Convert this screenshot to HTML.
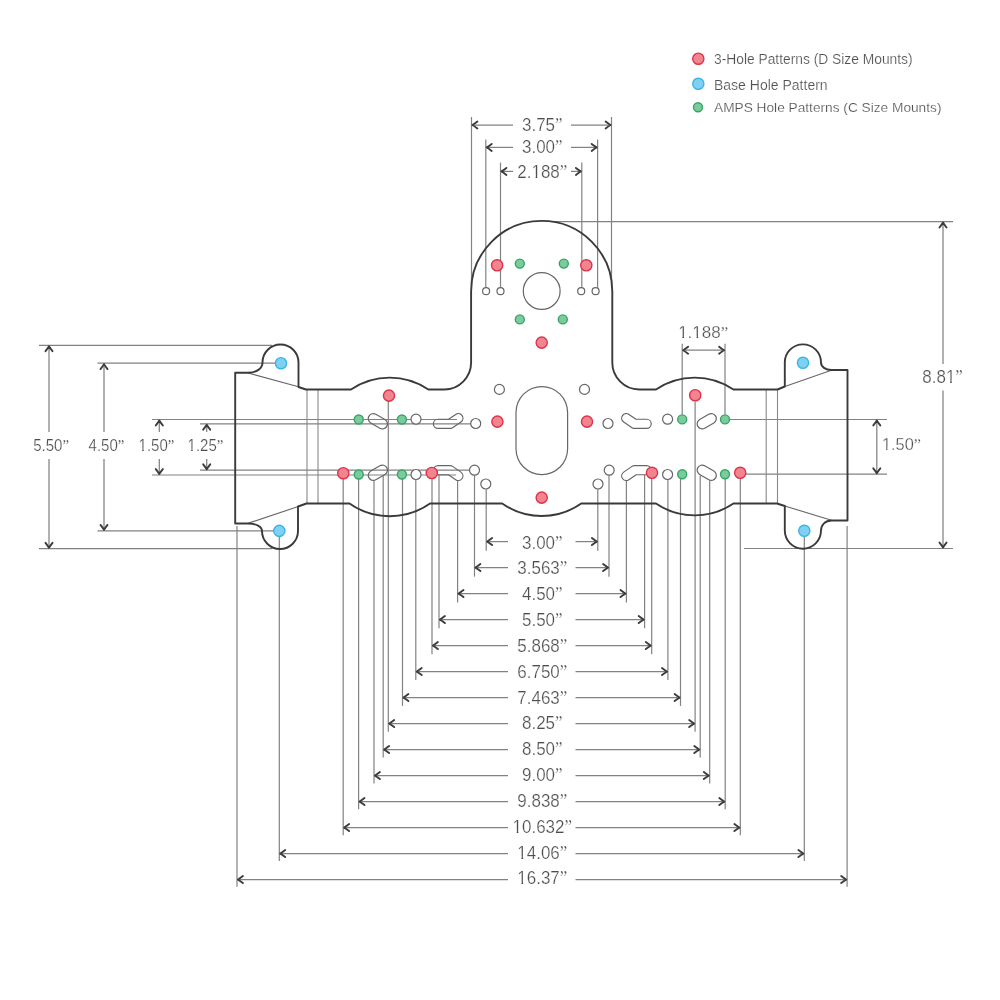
<!DOCTYPE html>
<html><head><meta charset="utf-8"><style>
html,body{margin:0;padding:0;background:#fff;width:1000px;height:1000px;overflow:hidden}
svg{display:block;will-change:transform}
text{font-family:"Liberation Sans",sans-serif}
.q{font-family:"Liberation Serif",serif}
</style></head><body>
<svg width="1000" height="1000" viewBox="0 0 1000 1000">
<rect width="1000" height="1000" fill="#fff"/>
<circle cx="698.3" cy="58.7" r="5.6" fill="#f2848f" stroke="#dc3349" stroke-width="1.4"/>
<circle cx="698.3" cy="83.8" r="5.6" fill="#7fd0f2" stroke="#3ab5e6" stroke-width="1.4"/>
<circle cx="698.0" cy="107.3" r="4.5" fill="#7ccb9d" stroke="#35a564" stroke-width="1.4"/>
<text transform="translate(714,64.3) scale(1,1)" font-size="13.8" text-anchor="start" fill="#505050" stroke="#fff" stroke-width="0.2">3-Hole Patterns (D Size Mounts)</text>
<text transform="translate(714,89.5) scale(1,1)" font-size="14" text-anchor="start" fill="#505050" stroke="#fff" stroke-width="0.2">Base Hole Pattern</text>
<text transform="translate(714,112.2) scale(1,1)" font-size="13.7" text-anchor="start" fill="#505050" stroke="#fff" stroke-width="0.2">AMPS Hole Patterns (C Size Mounts)</text>
<line x1="486.2" y1="489.2" x2="486.2" y2="550.8000000000001" stroke="#828282" stroke-width="1.2"/>
<line x1="597.8" y1="489.2" x2="597.8" y2="550.8000000000001" stroke="#828282" stroke-width="1.2"/>
<line x1="486.2" y1="541.6" x2="508" y2="541.6" stroke="#828282" stroke-width="1.25"/>
<line x1="575.5" y1="541.6" x2="597.8" y2="541.6" stroke="#828282" stroke-width="1.25"/>
<path d="M492.10,538.10 Q488.90,540.60 487.15,541.60 Q488.90,542.60 492.10,545.10" fill="none" stroke="#3c3c3c" stroke-width="1.9" stroke-linecap="round" stroke-linejoin="round"/>
<path d="M591.90,538.10 Q595.10,540.60 596.85,541.60 Q595.10,542.60 591.90,545.10" fill="none" stroke="#3c3c3c" stroke-width="1.9" stroke-linecap="round" stroke-linejoin="round"/>
<text transform="translate(542.3000000000001,548.6) scale(0.934,1)" font-size="18.2" text-anchor="middle" fill="#4d4d4d" stroke="#fff" stroke-width="0.25">3.00<tspan class="q">”</tspan></text>
<line x1="474.5" y1="475.2" x2="474.5" y2="576.6500000000001" stroke="#828282" stroke-width="1.2"/>
<line x1="609.0" y1="475.2" x2="609.0" y2="576.6500000000001" stroke="#828282" stroke-width="1.2"/>
<line x1="474.5" y1="567.6" x2="508" y2="567.6" stroke="#828282" stroke-width="1.25"/>
<line x1="575.5" y1="567.6" x2="609.0" y2="567.6" stroke="#828282" stroke-width="1.25"/>
<path d="M480.40,564.10 Q477.20,566.60 475.45,567.60 Q477.20,568.60 480.40,571.10" fill="none" stroke="#3c3c3c" stroke-width="1.9" stroke-linecap="round" stroke-linejoin="round"/>
<path d="M603.10,564.10 Q606.30,566.60 608.05,567.60 Q606.30,568.60 603.10,571.10" fill="none" stroke="#3c3c3c" stroke-width="1.9" stroke-linecap="round" stroke-linejoin="round"/>
<text transform="translate(542.3000000000001,574.43) scale(0.934,1)" font-size="18.2" text-anchor="middle" fill="#4d4d4d" stroke="#fff" stroke-width="0.25">3.563<tspan class="q">”</tspan></text>
<line x1="457.6" y1="480.8" x2="457.6" y2="602.5000000000001" stroke="#828282" stroke-width="1.2"/>
<line x1="626.4" y1="480.8" x2="626.4" y2="602.5000000000001" stroke="#828282" stroke-width="1.2"/>
<line x1="457.6" y1="593.6" x2="508" y2="593.6" stroke="#828282" stroke-width="1.25"/>
<line x1="575.5" y1="593.6" x2="626.4" y2="593.6" stroke="#828282" stroke-width="1.25"/>
<path d="M463.50,590.10 Q460.30,592.60 458.55,593.60 Q460.30,594.60 463.50,597.10" fill="none" stroke="#3c3c3c" stroke-width="1.9" stroke-linecap="round" stroke-linejoin="round"/>
<path d="M620.50,590.10 Q623.70,592.60 625.45,593.60 Q623.70,594.60 620.50,597.10" fill="none" stroke="#3c3c3c" stroke-width="1.9" stroke-linecap="round" stroke-linejoin="round"/>
<text transform="translate(542.3000000000001,600.26) scale(0.934,1)" font-size="18.2" text-anchor="middle" fill="#4d4d4d" stroke="#fff" stroke-width="0.25">4.50<tspan class="q">”</tspan></text>
<line x1="439.0" y1="474.7" x2="439.0" y2="628.35" stroke="#828282" stroke-width="1.2"/>
<line x1="644.6" y1="474.7" x2="644.6" y2="628.35" stroke="#828282" stroke-width="1.2"/>
<line x1="439.0" y1="619.6" x2="508" y2="619.6" stroke="#828282" stroke-width="1.25"/>
<line x1="575.5" y1="619.6" x2="644.6" y2="619.6" stroke="#828282" stroke-width="1.25"/>
<path d="M444.90,616.10 Q441.70,618.60 439.95,619.60 Q441.70,620.60 444.90,623.10" fill="none" stroke="#3c3c3c" stroke-width="1.9" stroke-linecap="round" stroke-linejoin="round"/>
<path d="M638.70,616.10 Q641.90,618.60 643.65,619.60 Q641.90,620.60 638.70,623.10" fill="none" stroke="#3c3c3c" stroke-width="1.9" stroke-linecap="round" stroke-linejoin="round"/>
<text transform="translate(542.3000000000001,626.09) scale(0.934,1)" font-size="18.2" text-anchor="middle" fill="#4d4d4d" stroke="#fff" stroke-width="0.25">5.50<tspan class="q">”</tspan></text>
<line x1="432.0" y1="479" x2="432.0" y2="654.2" stroke="#828282" stroke-width="1.2"/>
<line x1="651.7" y1="479" x2="651.7" y2="654.2" stroke="#828282" stroke-width="1.2"/>
<line x1="432.0" y1="645.6" x2="508" y2="645.6" stroke="#828282" stroke-width="1.25"/>
<line x1="575.5" y1="645.6" x2="651.7" y2="645.6" stroke="#828282" stroke-width="1.25"/>
<path d="M437.90,642.10 Q434.70,644.60 432.95,645.60 Q434.70,646.60 437.90,649.10" fill="none" stroke="#3c3c3c" stroke-width="1.9" stroke-linecap="round" stroke-linejoin="round"/>
<path d="M645.80,642.10 Q649.00,644.60 650.75,645.60 Q649.00,646.60 645.80,649.10" fill="none" stroke="#3c3c3c" stroke-width="1.9" stroke-linecap="round" stroke-linejoin="round"/>
<text transform="translate(542.3000000000001,651.92) scale(0.934,1)" font-size="18.2" text-anchor="middle" fill="#4d4d4d" stroke="#fff" stroke-width="0.25">5.868<tspan class="q">”</tspan></text>
<line x1="415.8" y1="480" x2="415.8" y2="680.0500000000001" stroke="#828282" stroke-width="1.2"/>
<line x1="667.9" y1="480" x2="667.9" y2="680.0500000000001" stroke="#828282" stroke-width="1.2"/>
<line x1="415.8" y1="671.6" x2="508" y2="671.6" stroke="#828282" stroke-width="1.25"/>
<line x1="575.5" y1="671.6" x2="667.9" y2="671.6" stroke="#828282" stroke-width="1.25"/>
<path d="M421.70,668.10 Q418.50,670.60 416.75,671.60 Q418.50,672.60 421.70,675.10" fill="none" stroke="#3c3c3c" stroke-width="1.9" stroke-linecap="round" stroke-linejoin="round"/>
<path d="M662.00,668.10 Q665.20,670.60 666.95,671.60 Q665.20,672.60 662.00,675.10" fill="none" stroke="#3c3c3c" stroke-width="1.9" stroke-linecap="round" stroke-linejoin="round"/>
<text transform="translate(542.3000000000001,677.75) scale(0.934,1)" font-size="18.2" text-anchor="middle" fill="#4d4d4d" stroke="#fff" stroke-width="0.25">6.750<tspan class="q">”</tspan></text>
<line x1="402.5" y1="479" x2="402.5" y2="705.9000000000001" stroke="#828282" stroke-width="1.2"/>
<line x1="680.5" y1="479" x2="680.5" y2="705.9000000000001" stroke="#828282" stroke-width="1.2"/>
<line x1="402.5" y1="697.6" x2="508" y2="697.6" stroke="#828282" stroke-width="1.25"/>
<line x1="575.5" y1="697.6" x2="680.5" y2="697.6" stroke="#828282" stroke-width="1.25"/>
<path d="M408.40,694.10 Q405.20,696.60 403.45,697.60 Q405.20,698.60 408.40,701.10" fill="none" stroke="#3c3c3c" stroke-width="1.9" stroke-linecap="round" stroke-linejoin="round"/>
<path d="M674.60,694.10 Q677.80,696.60 679.55,697.60 Q677.80,698.60 674.60,701.10" fill="none" stroke="#3c3c3c" stroke-width="1.9" stroke-linecap="round" stroke-linejoin="round"/>
<text transform="translate(542.3000000000001,703.58) scale(0.934,1)" font-size="18.2" text-anchor="middle" fill="#4d4d4d" stroke="#fff" stroke-width="0.25">7.463<tspan class="q">”</tspan></text>
<line x1="388.3" y1="401.6" x2="388.3" y2="731.7500000000001" stroke="#828282" stroke-width="1.2"/>
<line x1="695.1" y1="401.6" x2="695.1" y2="731.7500000000001" stroke="#828282" stroke-width="1.2"/>
<line x1="388.3" y1="723.6" x2="508" y2="723.6" stroke="#828282" stroke-width="1.25"/>
<line x1="575.5" y1="723.6" x2="695.1" y2="723.6" stroke="#828282" stroke-width="1.25"/>
<path d="M394.20,720.10 Q391.00,722.60 389.25,723.60 Q391.00,724.60 394.20,727.10" fill="none" stroke="#3c3c3c" stroke-width="1.9" stroke-linecap="round" stroke-linejoin="round"/>
<path d="M689.20,720.10 Q692.40,722.60 694.15,723.60 Q692.40,724.60 689.20,727.10" fill="none" stroke="#3c3c3c" stroke-width="1.9" stroke-linecap="round" stroke-linejoin="round"/>
<text transform="translate(542.3000000000001,729.41) scale(0.934,1)" font-size="18.2" text-anchor="middle" fill="#4d4d4d" stroke="#fff" stroke-width="0.25">8.25<tspan class="q">”</tspan></text>
<line x1="383.2" y1="475.5" x2="383.2" y2="757.6" stroke="#828282" stroke-width="1.2"/>
<line x1="700.2" y1="475.5" x2="700.2" y2="757.6" stroke="#828282" stroke-width="1.2"/>
<line x1="383.2" y1="749.6" x2="508" y2="749.6" stroke="#828282" stroke-width="1.25"/>
<line x1="575.5" y1="749.6" x2="700.2" y2="749.6" stroke="#828282" stroke-width="1.25"/>
<path d="M389.10,746.10 Q385.90,748.60 384.15,749.60 Q385.90,750.60 389.10,753.10" fill="none" stroke="#3c3c3c" stroke-width="1.9" stroke-linecap="round" stroke-linejoin="round"/>
<path d="M694.30,746.10 Q697.50,748.60 699.25,749.60 Q697.50,750.60 694.30,753.10" fill="none" stroke="#3c3c3c" stroke-width="1.9" stroke-linecap="round" stroke-linejoin="round"/>
<text transform="translate(542.3000000000001,755.24) scale(0.934,1)" font-size="18.2" text-anchor="middle" fill="#4d4d4d" stroke="#fff" stroke-width="0.25">8.50<tspan class="q">”</tspan></text>
<line x1="374.0" y1="480.6" x2="374.0" y2="783.45" stroke="#828282" stroke-width="1.2"/>
<line x1="709.7" y1="480.6" x2="709.7" y2="783.45" stroke="#828282" stroke-width="1.2"/>
<line x1="374.0" y1="775.6" x2="508" y2="775.6" stroke="#828282" stroke-width="1.25"/>
<line x1="575.5" y1="775.6" x2="709.7" y2="775.6" stroke="#828282" stroke-width="1.25"/>
<path d="M379.90,772.10 Q376.70,774.60 374.95,775.60 Q376.70,776.60 379.90,779.10" fill="none" stroke="#3c3c3c" stroke-width="1.9" stroke-linecap="round" stroke-linejoin="round"/>
<path d="M703.80,772.10 Q707.00,774.60 708.75,775.60 Q707.00,776.60 703.80,779.10" fill="none" stroke="#3c3c3c" stroke-width="1.9" stroke-linecap="round" stroke-linejoin="round"/>
<text transform="translate(542.3000000000001,781.07) scale(0.934,1)" font-size="18.2" text-anchor="middle" fill="#4d4d4d" stroke="#fff" stroke-width="0.25">9.00<tspan class="q">”</tspan></text>
<line x1="358.6" y1="479" x2="358.6" y2="809.3000000000001" stroke="#828282" stroke-width="1.2"/>
<line x1="725.2" y1="479" x2="725.2" y2="809.3000000000001" stroke="#828282" stroke-width="1.2"/>
<line x1="358.6" y1="801.6" x2="508" y2="801.6" stroke="#828282" stroke-width="1.25"/>
<line x1="575.5" y1="801.6" x2="725.2" y2="801.6" stroke="#828282" stroke-width="1.25"/>
<path d="M364.50,798.10 Q361.30,800.60 359.55,801.60 Q361.30,802.60 364.50,805.10" fill="none" stroke="#3c3c3c" stroke-width="1.9" stroke-linecap="round" stroke-linejoin="round"/>
<path d="M719.30,798.10 Q722.50,800.60 724.25,801.60 Q722.50,802.60 719.30,805.10" fill="none" stroke="#3c3c3c" stroke-width="1.9" stroke-linecap="round" stroke-linejoin="round"/>
<text transform="translate(542.3000000000001,806.9) scale(0.934,1)" font-size="18.2" text-anchor="middle" fill="#4d4d4d" stroke="#fff" stroke-width="0.25">9.838<tspan class="q">”</tspan></text>
<line x1="343.2" y1="479" x2="343.2" y2="835.1500000000001" stroke="#828282" stroke-width="1.2"/>
<line x1="740.3" y1="479" x2="740.3" y2="835.1500000000001" stroke="#828282" stroke-width="1.2"/>
<line x1="343.2" y1="827.6" x2="508" y2="827.6" stroke="#828282" stroke-width="1.25"/>
<line x1="575.5" y1="827.6" x2="740.3" y2="827.6" stroke="#828282" stroke-width="1.25"/>
<path d="M349.10,824.10 Q345.90,826.60 344.15,827.60 Q345.90,828.60 349.10,831.10" fill="none" stroke="#3c3c3c" stroke-width="1.9" stroke-linecap="round" stroke-linejoin="round"/>
<path d="M734.40,824.10 Q737.60,826.60 739.35,827.60 Q737.60,828.60 734.40,831.10" fill="none" stroke="#3c3c3c" stroke-width="1.9" stroke-linecap="round" stroke-linejoin="round"/>
<text transform="translate(542.3000000000001,832.73) scale(0.934,1)" font-size="18.2" text-anchor="middle" fill="#4d4d4d" stroke="#fff" stroke-width="0.25">10.632<tspan class="q">”</tspan></text>
<rect x="513.08" y="830.17" width="3.63" height="3.56" fill="#fff"/>
<rect x="518.40" y="830.17" width="3.50" height="3.56" fill="#fff"/>
<line x1="279.3" y1="537" x2="279.3" y2="861.0000000000001" stroke="#828282" stroke-width="1.2"/>
<line x1="804.3" y1="537" x2="804.3" y2="861.0000000000001" stroke="#828282" stroke-width="1.2"/>
<line x1="279.3" y1="853.6" x2="508" y2="853.6" stroke="#828282" stroke-width="1.25"/>
<line x1="575.5" y1="853.6" x2="804.3" y2="853.6" stroke="#828282" stroke-width="1.25"/>
<path d="M285.20,850.10 Q282.00,852.60 280.25,853.60 Q282.00,854.60 285.20,857.10" fill="none" stroke="#3c3c3c" stroke-width="1.9" stroke-linecap="round" stroke-linejoin="round"/>
<path d="M798.40,850.10 Q801.60,852.60 803.35,853.60 Q801.60,854.60 798.40,857.10" fill="none" stroke="#3c3c3c" stroke-width="1.9" stroke-linecap="round" stroke-linejoin="round"/>
<text transform="translate(542.3000000000001,858.56) scale(0.934,1)" font-size="18.2" text-anchor="middle" fill="#4d4d4d" stroke="#fff" stroke-width="0.25">14.06<tspan class="q">”</tspan></text>
<rect x="517.81" y="856.00" width="3.63" height="3.56" fill="#fff"/>
<rect x="523.13" y="856.00" width="3.50" height="3.56" fill="#fff"/>
<line x1="237.0" y1="526" x2="237.0" y2="886.85" stroke="#828282" stroke-width="1.2"/>
<line x1="847.1" y1="526" x2="847.1" y2="886.85" stroke="#828282" stroke-width="1.2"/>
<line x1="237.0" y1="879.6" x2="508" y2="879.6" stroke="#828282" stroke-width="1.25"/>
<line x1="575.5" y1="879.6" x2="847.1" y2="879.6" stroke="#828282" stroke-width="1.25"/>
<path d="M242.90,876.10 Q239.70,878.60 237.95,879.60 Q239.70,880.60 242.90,883.10" fill="none" stroke="#3c3c3c" stroke-width="1.9" stroke-linecap="round" stroke-linejoin="round"/>
<path d="M841.20,876.10 Q844.40,878.60 846.15,879.60 Q844.40,880.60 841.20,883.10" fill="none" stroke="#3c3c3c" stroke-width="1.9" stroke-linecap="round" stroke-linejoin="round"/>
<text transform="translate(542.3000000000001,884.39) scale(0.934,1)" font-size="18.2" text-anchor="middle" fill="#4d4d4d" stroke="#fff" stroke-width="0.25">16.37<tspan class="q">”</tspan></text>
<rect x="517.81" y="881.83" width="3.63" height="3.56" fill="#fff"/>
<rect x="523.13" y="881.83" width="3.50" height="3.56" fill="#fff"/>
<line x1="471.5" y1="117.0" x2="471.5" y2="285" stroke="#828282" stroke-width="1.2"/>
<line x1="611.5" y1="117.0" x2="611.5" y2="285" stroke="#828282" stroke-width="1.2"/>
<line x1="471.5" y1="125.0" x2="513" y2="125.0" stroke="#828282" stroke-width="1.25"/>
<line x1="571" y1="125.0" x2="611.5" y2="125.0" stroke="#828282" stroke-width="1.25"/>
<path d="M477.40,121.50 Q474.20,124.00 472.45,125.00 Q474.20,126.00 477.40,128.50" fill="none" stroke="#3c3c3c" stroke-width="1.9" stroke-linecap="round" stroke-linejoin="round"/>
<path d="M605.60,121.50 Q608.80,124.00 610.55,125.00 Q608.80,126.00 605.60,128.50" fill="none" stroke="#3c3c3c" stroke-width="1.9" stroke-linecap="round" stroke-linejoin="round"/>
<text transform="translate(542.3000000000001,130.8) scale(0.934,1)" font-size="18.2" text-anchor="middle" fill="#4d4d4d" stroke="#fff" stroke-width="0.25">3.75<tspan class="q">”</tspan></text>
<line x1="485.8" y1="139.4" x2="485.8" y2="287.7" stroke="#828282" stroke-width="1.2"/>
<line x1="597.6" y1="139.4" x2="597.6" y2="287.7" stroke="#828282" stroke-width="1.2"/>
<line x1="485.8" y1="147.4" x2="513" y2="147.4" stroke="#828282" stroke-width="1.25"/>
<line x1="571" y1="147.4" x2="597.6" y2="147.4" stroke="#828282" stroke-width="1.25"/>
<path d="M491.70,143.90 Q488.50,146.40 486.75,147.40 Q488.50,148.40 491.70,150.90" fill="none" stroke="#3c3c3c" stroke-width="1.9" stroke-linecap="round" stroke-linejoin="round"/>
<path d="M591.70,143.90 Q594.90,146.40 596.65,147.40 Q594.90,148.40 591.70,150.90" fill="none" stroke="#3c3c3c" stroke-width="1.9" stroke-linecap="round" stroke-linejoin="round"/>
<text transform="translate(542.3000000000001,153.20000000000002) scale(0.934,1)" font-size="18.2" text-anchor="middle" fill="#4d4d4d" stroke="#fff" stroke-width="0.25">3.00<tspan class="q">”</tspan></text>
<line x1="500.5" y1="162.6" x2="500.5" y2="287.7" stroke="#828282" stroke-width="1.2"/>
<line x1="581.8" y1="162.6" x2="581.8" y2="287.7" stroke="#828282" stroke-width="1.2"/>
<line x1="500.5" y1="171.4" x2="513" y2="171.4" stroke="#828282" stroke-width="1.25"/>
<line x1="571" y1="171.4" x2="581.8" y2="171.4" stroke="#828282" stroke-width="1.25"/>
<path d="M506.40,167.90 Q503.20,170.40 501.45,171.40 Q503.20,172.40 506.40,174.90" fill="none" stroke="#3c3c3c" stroke-width="1.9" stroke-linecap="round" stroke-linejoin="round"/>
<path d="M575.90,167.90 Q579.10,170.40 580.85,171.40 Q579.10,172.40 575.90,174.90" fill="none" stroke="#3c3c3c" stroke-width="1.9" stroke-linecap="round" stroke-linejoin="round"/>
<text transform="translate(542.3000000000001,178.0) scale(0.934,1)" font-size="18.2" text-anchor="middle" fill="#4d4d4d" stroke="#fff" stroke-width="0.25">2.188<tspan class="q">”</tspan></text>
<rect x="531.98" y="175.44" width="3.63" height="3.56" fill="#fff"/>
<rect x="537.31" y="175.44" width="3.50" height="3.56" fill="#fff"/>
<line x1="553" y1="221.6" x2="953" y2="221.6" stroke="#828282" stroke-width="1.2"/>
<line x1="744" y1="548.5" x2="953" y2="548.5" stroke="#828282" stroke-width="1.2"/>
<line x1="943" y1="221.6" x2="943" y2="364" stroke="#828282" stroke-width="1.25"/>
<line x1="943" y1="390.6" x2="943" y2="548.5" stroke="#828282" stroke-width="1.25"/>
<path d="M939.50,227.50 Q942.00,224.30 943.00,222.55 Q944.00,224.30 946.50,227.50" fill="none" stroke="#3c3c3c" stroke-width="1.9" stroke-linecap="round" stroke-linejoin="round"/>
<path d="M939.50,542.60 Q942.00,545.80 943.00,547.55 Q944.00,545.80 946.50,542.60" fill="none" stroke="#3c3c3c" stroke-width="1.9" stroke-linecap="round" stroke-linejoin="round"/>
<text transform="translate(942.6,382.9) scale(0.934,1)" font-size="18.2" text-anchor="middle" fill="#4d4d4d" stroke="#fff" stroke-width="0.25">8.81<tspan class="q">”</tspan></text>
<rect x="946.46" y="380.34" width="3.63" height="3.56" fill="#fff"/>
<rect x="951.79" y="380.34" width="3.50" height="3.56" fill="#fff"/>
<line x1="725" y1="419.5" x2="887" y2="419.5" stroke="#828282" stroke-width="1.2"/>
<line x1="740" y1="474.2" x2="887" y2="474.2" stroke="#828282" stroke-width="1.2"/>
<line x1="876.8" y1="419.5" x2="876.8" y2="474.2" stroke="#828282" stroke-width="1.25"/>
<path d="M873.30,425.40 Q875.80,422.20 876.80,420.45 Q877.80,422.20 880.30,425.40" fill="none" stroke="#3c3c3c" stroke-width="1.9" stroke-linecap="round" stroke-linejoin="round"/>
<path d="M873.30,468.30 Q875.80,471.50 876.80,473.25 Q877.80,471.50 880.30,468.30" fill="none" stroke="#3c3c3c" stroke-width="1.9" stroke-linecap="round" stroke-linejoin="round"/>
<text transform="translate(882.0,450.1) scale(1.02,1)" font-size="16" text-anchor="start" fill="#4d4d4d" stroke="#fff" stroke-width="0.25">1.50<tspan class="q">”</tspan></text>
<rect x="882.43" y="447.70" width="3.57" height="3.40" fill="#fff"/>
<rect x="887.65" y="447.70" width="3.45" height="3.40" fill="#fff"/>
<line x1="682.2" y1="343.8" x2="682.2" y2="414.5" stroke="#828282" stroke-width="1.2"/>
<line x1="725.0" y1="343.8" x2="725.0" y2="414.5" stroke="#828282" stroke-width="1.2"/>
<line x1="682.2" y1="350.2" x2="725.0" y2="350.2" stroke="#828282" stroke-width="1.25"/>
<path d="M688.10,346.70 Q684.90,349.20 683.15,350.20 Q684.90,351.20 688.10,353.70" fill="none" stroke="#3c3c3c" stroke-width="1.9" stroke-linecap="round" stroke-linejoin="round"/>
<path d="M719.10,346.70 Q722.30,349.20 724.05,350.20 Q722.30,351.20 719.10,353.70" fill="none" stroke="#3c3c3c" stroke-width="1.9" stroke-linecap="round" stroke-linejoin="round"/>
<text transform="translate(703.2,338.3) scale(1.0,1)" font-size="17" text-anchor="middle" fill="#4d4d4d" stroke="#fff" stroke-width="0.25">1.188<tspan class="q">”</tspan></text>
<rect x="678.65" y="335.83" width="3.68" height="3.47" fill="#fff"/>
<rect x="684.03" y="335.83" width="3.55" height="3.47" fill="#fff"/>
<rect x="692.83" y="335.83" width="3.68" height="3.47" fill="#fff"/>
<rect x="698.21" y="335.83" width="3.55" height="3.47" fill="#fff"/>
<line x1="39" y1="345.3" x2="272" y2="345.3" stroke="#828282" stroke-width="1.2"/>
<line x1="39" y1="548.7" x2="272" y2="548.7" stroke="#828282" stroke-width="1.2"/>
<line x1="49" y1="345.3" x2="49" y2="432" stroke="#828282" stroke-width="1.25"/>
<line x1="49" y1="459" x2="49" y2="548.7" stroke="#828282" stroke-width="1.25"/>
<path d="M45.50,351.20 Q48.00,348.00 49.00,346.25 Q50.00,348.00 52.50,351.20" fill="none" stroke="#3c3c3c" stroke-width="1.9" stroke-linecap="round" stroke-linejoin="round"/>
<path d="M45.50,542.80 Q48.00,546.00 49.00,547.75 Q50.00,546.00 52.50,542.80" fill="none" stroke="#3c3c3c" stroke-width="1.9" stroke-linecap="round" stroke-linejoin="round"/>
<text transform="translate(51.1,451) scale(0.94,1)" font-size="16" text-anchor="middle" fill="#4d4d4d" stroke="#fff" stroke-width="0.25">5.50<tspan class="q">”</tspan></text>
<line x1="97.5" y1="363.2" x2="275" y2="363.2" stroke="#828282" stroke-width="1.2"/>
<line x1="97.5" y1="530.8" x2="275" y2="530.8" stroke="#828282" stroke-width="1.2"/>
<line x1="104" y1="363.2" x2="104" y2="432" stroke="#828282" stroke-width="1.25"/>
<line x1="104" y1="459" x2="104" y2="530.8" stroke="#828282" stroke-width="1.25"/>
<path d="M100.50,369.10 Q103.00,365.90 104.00,364.15 Q105.00,365.90 107.50,369.10" fill="none" stroke="#3c3c3c" stroke-width="1.9" stroke-linecap="round" stroke-linejoin="round"/>
<path d="M100.50,524.90 Q103.00,528.10 104.00,529.85 Q105.00,528.10 107.50,524.90" fill="none" stroke="#3c3c3c" stroke-width="1.9" stroke-linecap="round" stroke-linejoin="round"/>
<text transform="translate(106.5,451) scale(0.94,1)" font-size="16" text-anchor="middle" fill="#4d4d4d" stroke="#fff" stroke-width="0.25">4.50<tspan class="q">”</tspan></text>
<line x1="152" y1="419.5" x2="457" y2="419.5" stroke="#828282" stroke-width="1.2"/>
<line x1="152" y1="475.0" x2="456" y2="475.0" stroke="#828282" stroke-width="1.2"/>
<line x1="200" y1="423.8" x2="471" y2="423.8" stroke="#828282" stroke-width="1.2"/>
<line x1="200" y1="470.2" x2="469.5" y2="470.2" stroke="#828282" stroke-width="1.2"/>
<line x1="159.3" y1="419.5" x2="159.3" y2="432" stroke="#828282" stroke-width="1.25"/>
<line x1="159.3" y1="459" x2="159.3" y2="475.0" stroke="#828282" stroke-width="1.25"/>
<path d="M155.80,425.40 Q158.30,422.20 159.30,420.45 Q160.30,422.20 162.80,425.40" fill="none" stroke="#3c3c3c" stroke-width="1.9" stroke-linecap="round" stroke-linejoin="round"/>
<path d="M155.80,469.10 Q158.30,472.30 159.30,474.05 Q160.30,472.30 162.80,469.10" fill="none" stroke="#3c3c3c" stroke-width="1.9" stroke-linecap="round" stroke-linejoin="round"/>
<text transform="translate(156.5,451) scale(0.94,1)" font-size="16" text-anchor="middle" fill="#4d4d4d" stroke="#fff" stroke-width="0.25">1.50<tspan class="q">”</tspan></text>
<rect x="138.92" y="448.60" width="3.29" height="3.40" fill="#fff"/>
<rect x="143.73" y="448.60" width="3.18" height="3.40" fill="#fff"/>
<line x1="206.7" y1="423.8" x2="206.7" y2="432" stroke="#828282" stroke-width="1.25"/>
<line x1="206.7" y1="459" x2="206.7" y2="470.2" stroke="#828282" stroke-width="1.25"/>
<path d="M203.20,429.70 Q205.70,426.50 206.70,424.75 Q207.70,426.50 210.20,429.70" fill="none" stroke="#3c3c3c" stroke-width="1.9" stroke-linecap="round" stroke-linejoin="round"/>
<path d="M203.20,464.30 Q205.70,467.50 206.70,469.25 Q207.70,467.50 210.20,464.30" fill="none" stroke="#3c3c3c" stroke-width="1.9" stroke-linecap="round" stroke-linejoin="round"/>
<text transform="translate(205.5,451) scale(0.94,1)" font-size="16" text-anchor="middle" fill="#4d4d4d" stroke="#fff" stroke-width="0.25">1.25<tspan class="q">”</tspan></text>
<rect x="187.92" y="448.60" width="3.29" height="3.40" fill="#fff"/>
<rect x="192.73" y="448.60" width="3.18" height="3.40" fill="#fff"/>
<line x1="248" y1="373" x2="298.5" y2="386.8" stroke="#666" stroke-width="1.1"/>
<line x1="248" y1="523.3" x2="298.3" y2="506.5" stroke="#666" stroke-width="1.1"/>
<line x1="831.5" y1="370.2" x2="784.8" y2="386.5" stroke="#666" stroke-width="1.1"/>
<line x1="831.5" y1="520.3" x2="784.8" y2="506" stroke="#666" stroke-width="1.1"/>
<line x1="307" y1="389.5" x2="307" y2="503.5" stroke="#888" stroke-width="1.1"/>
<line x1="318" y1="389.5" x2="318" y2="503.5" stroke="#888" stroke-width="1.1"/>
<line x1="766.2" y1="389.5" x2="766.2" y2="503.5" stroke="#888" stroke-width="1.1"/>
<line x1="777.5" y1="389.5" x2="777.5" y2="503.5" stroke="#888" stroke-width="1.1"/>
<path d="M471.1,291.5 A70.5,70.5 0 0 1 612.3,291.5 L612.3,362 A27,27 0 0 0 639.3,389.5 L656,389.5 A69,69 0 0 1 733.4,389.5 L777.5,389.5 L784.80,386.5 L784.80,362.5 A18.1,18.1 0 0 1 821.00,362.5 C821.00,366.85 825.41,370.00 831.50,370.00 L847.5,370.0 L847.5,520.5 L831.5,520.5  C825.41,520.50 821.00,524.74 821.00,530.60 A18.1,18.1 0 0 1 784.80,530.6 L784.80,506 L777,503.5 L733.4,503.5 A69,69 0 0 1 656,503.5 L581.2,503.5 A68.6,68.6 0 0 1 502.2,503.5 L430,503.5 A70,70 0 0 1 349.5,503.5 L306.5,503.5 L298.00,506.5 L298.00,531.0 A18.0,18.0 0 0 1 262.00,531.0 C262.00,526.65 256.12,523.5 248.0,523.5 L235.2,523.5 L235.2,372.8 L248,372.8 C256.41,372.8 262.50,368.47 262.50,362.5 A18.0,18.0 0 0 1 298.50,362.5 L298.50,387 L306,389.5 L351,389.5 A69,69 0 0 1 428.4,389.5 L444.3,389.5 A27,27 0 0 0 471.1,362 Z" fill="none" stroke="#3a3a3a" stroke-width="1.9" stroke-linejoin="round"/>
<mask id="slm" maskUnits="userSpaceOnUse" x="0" y="0" width="1000" height="1000"><rect width="1000" height="1000" fill="#fff"/><path d="M373.3,418.6 L382.4,423.9 M711.3,418.6 L702.2,423.9 M373.3,475.4 L382.4,470.1 M711.3,475.4 L702.2,470.1" stroke="#000" stroke-width="8.8" stroke-linecap="round" fill="none"/><path d="M438,423.85 L450,423.85 L458.3,418.2 M646.6,423.85 L634.6,423.85 L626.3,418.2 M438,470.15 L450,470.15 L458.3,475.9 M646.6,470.15 L634.6,470.15 L626.3,475.9" stroke="#000" stroke-width="7.999999999999999" stroke-linecap="round" stroke-linejoin="round" fill="none"/><path d="M541.8,412.4 L541.8,448.8" stroke="#000" stroke-width="50.4" stroke-linecap="round" fill="none"/></mask>
<g mask="url(#slm)"><path d="M373.3,418.6 L382.4,423.9 M711.3,418.6 L702.2,423.9 M373.3,475.4 L382.4,470.1 M711.3,475.4 L702.2,470.1" stroke="#666" stroke-width="11.2" stroke-linecap="round" fill="none"/><path d="M438,423.85 L450,423.85 L458.3,418.2 M646.6,423.85 L634.6,423.85 L626.3,418.2 M438,470.15 L450,470.15 L458.3,475.9 M646.6,470.15 L634.6,470.15 L626.3,475.9" stroke="#666" stroke-width="10.399999999999999" stroke-linecap="round" stroke-linejoin="round" fill="none"/><path d="M541.8,412.4 L541.8,448.8" stroke="#666" stroke-width="52.800000000000004" stroke-linecap="round" fill="none"/></g>
<circle cx="541.7" cy="291.0" r="18.4" fill="none" stroke="#666" stroke-width="1.2"/>
<circle cx="486.1" cy="291.2" r="3.5" fill="#fff" stroke="#666" stroke-width="1.2"/>
<circle cx="500.5" cy="291.2" r="3.5" fill="#fff" stroke="#666" stroke-width="1.2"/>
<circle cx="581.2" cy="291.2" r="3.5" fill="#fff" stroke="#666" stroke-width="1.2"/>
<circle cx="595.6" cy="291.2" r="3.5" fill="#fff" stroke="#666" stroke-width="1.2"/>
<circle cx="499.4" cy="389.4" r="5.0" fill="#fff" stroke="#666" stroke-width="1.2"/>
<circle cx="584.5" cy="389.4" r="5.0" fill="#fff" stroke="#666" stroke-width="1.2"/>
<circle cx="475.7" cy="423.5" r="5.0" fill="#fff" stroke="#666" stroke-width="1.2"/>
<circle cx="608" cy="423.5" r="5.0" fill="#fff" stroke="#666" stroke-width="1.2"/>
<circle cx="474.5" cy="470.2" r="5.0" fill="#fff" stroke="#666" stroke-width="1.2"/>
<circle cx="609.2" cy="470.2" r="5.0" fill="#fff" stroke="#666" stroke-width="1.2"/>
<circle cx="485.8" cy="484" r="5.0" fill="#fff" stroke="#666" stroke-width="1.2"/>
<circle cx="598" cy="484" r="5.0" fill="#fff" stroke="#666" stroke-width="1.2"/>
<circle cx="416" cy="419.2" r="5.0" fill="#fff" stroke="#666" stroke-width="1.2"/>
<circle cx="667.6" cy="419.2" r="5.0" fill="#fff" stroke="#666" stroke-width="1.2"/>
<circle cx="416" cy="474.5" r="5.0" fill="#fff" stroke="#666" stroke-width="1.2"/>
<circle cx="667.6" cy="474.5" r="5.0" fill="#fff" stroke="#666" stroke-width="1.2"/>
<circle cx="497.1" cy="265.3" r="5.6" fill="#f2848f" stroke="#dc3349" stroke-width="1.4"/>
<circle cx="586.3" cy="265.3" r="5.6" fill="#f2848f" stroke="#dc3349" stroke-width="1.4"/>
<circle cx="541.7" cy="342.6" r="5.6" fill="#f2848f" stroke="#dc3349" stroke-width="1.4"/>
<circle cx="497.4" cy="421.6" r="5.6" fill="#f2848f" stroke="#dc3349" stroke-width="1.4"/>
<circle cx="587" cy="421.6" r="5.6" fill="#f2848f" stroke="#dc3349" stroke-width="1.4"/>
<circle cx="541.7" cy="497.6" r="5.6" fill="#f2848f" stroke="#dc3349" stroke-width="1.4"/>
<circle cx="389" cy="395.6" r="5.6" fill="#f2848f" stroke="#dc3349" stroke-width="1.4"/>
<circle cx="695.2" cy="395.2" r="5.6" fill="#f2848f" stroke="#dc3349" stroke-width="1.4"/>
<circle cx="343.3" cy="473.2" r="5.6" fill="#f2848f" stroke="#dc3349" stroke-width="1.4"/>
<circle cx="431.8" cy="473.0" r="5.6" fill="#f2848f" stroke="#dc3349" stroke-width="1.4"/>
<circle cx="740.2" cy="472.8" r="5.6" fill="#f2848f" stroke="#dc3349" stroke-width="1.4"/>
<circle cx="652" cy="472.8" r="5.6" fill="#f2848f" stroke="#dc3349" stroke-width="1.4"/>
<circle cx="519.8" cy="263.6" r="4.5" fill="#7ccb9d" stroke="#35a564" stroke-width="1.4"/>
<circle cx="563.8" cy="263.6" r="4.5" fill="#7ccb9d" stroke="#35a564" stroke-width="1.4"/>
<circle cx="519.8" cy="319.4" r="4.5" fill="#7ccb9d" stroke="#35a564" stroke-width="1.4"/>
<circle cx="562.8" cy="319.4" r="4.5" fill="#7ccb9d" stroke="#35a564" stroke-width="1.4"/>
<circle cx="358.75" cy="419.5" r="4.5" fill="#7ccb9d" stroke="#35a564" stroke-width="1.4"/>
<circle cx="401.9" cy="419.5" r="4.5" fill="#7ccb9d" stroke="#35a564" stroke-width="1.4"/>
<circle cx="682.2" cy="419.4" r="4.5" fill="#7ccb9d" stroke="#35a564" stroke-width="1.4"/>
<circle cx="725" cy="419.4" r="4.5" fill="#7ccb9d" stroke="#35a564" stroke-width="1.4"/>
<circle cx="358.75" cy="474.5" r="4.5" fill="#7ccb9d" stroke="#35a564" stroke-width="1.4"/>
<circle cx="401.9" cy="474.5" r="4.5" fill="#7ccb9d" stroke="#35a564" stroke-width="1.4"/>
<circle cx="682.2" cy="474.2" r="4.5" fill="#7ccb9d" stroke="#35a564" stroke-width="1.4"/>
<circle cx="725" cy="474.2" r="4.5" fill="#7ccb9d" stroke="#35a564" stroke-width="1.4"/>
<circle cx="281" cy="363.2" r="5.6" fill="#7fd0f2" stroke="#3ab5e6" stroke-width="1.4"/>
<circle cx="279.3" cy="530.9" r="5.6" fill="#7fd0f2" stroke="#3ab5e6" stroke-width="1.4"/>
<circle cx="803" cy="362.8" r="5.6" fill="#7fd0f2" stroke="#3ab5e6" stroke-width="1.4"/>
<circle cx="804.3" cy="530.8" r="5.6" fill="#7fd0f2" stroke="#3ab5e6" stroke-width="1.4"/>
</svg></body></html>
